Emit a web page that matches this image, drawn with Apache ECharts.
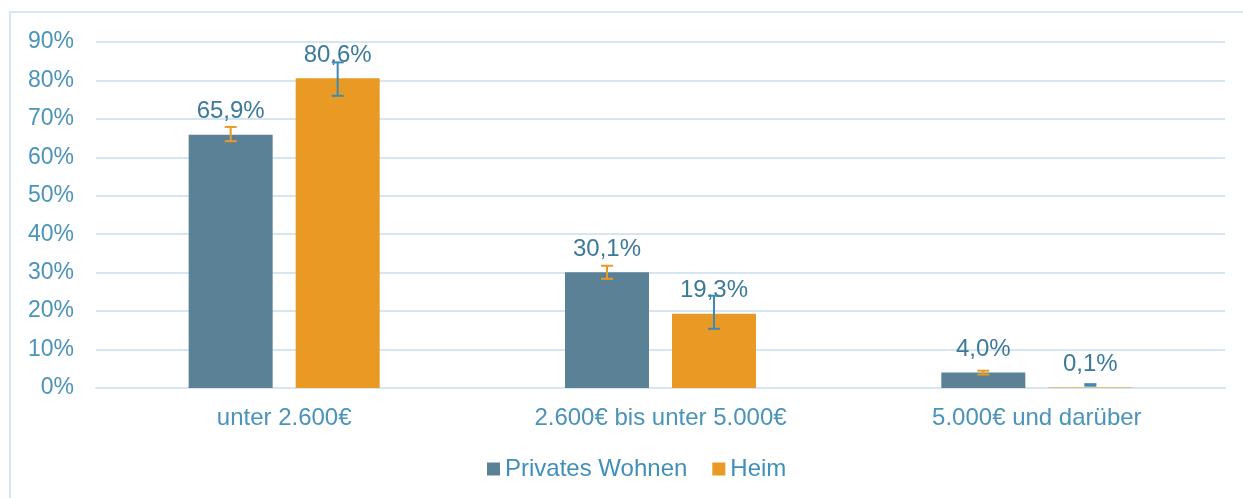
<!DOCTYPE html>
<html>
<head>
<meta charset="utf-8">
<script src="https://cdn.jsdelivr.net/npm/echarts@6/dist/echarts.min.js"></script>
<style>
html,body{margin:0;padding:0;background:#fff;}
#chart{width:1243px;height:498px;}
</style>
</head>
<body>
<div id="chart"></div>
<script>
const categories = ['unter 2.600€', '2.600€ bis unter 5.000€', '5.000€ und darüber'];
const seriesNames = ['Privates Wohnen', 'Heim'];
const privatValues = [65.9, 30.1, 4.0];
const heimValues = [80.6, 19.3, 0.1];
// error bar ranges [low, high]
const privatErrLow = [64.2, 28.4, 3.5];
const privatErrHigh = [67.9, 31.8, 4.5];
const heimErrLow = [76.0, 15.4, 0.6];
const heimErrHigh = [84.7, 24.0, 1.0];
const yTicks = [0, 10, 20, 30, 40, 50, 60, 70, 80, 90];

const BAR_W = 84, BAR_GAP = 23;
const FONT = '"Liberation Sans", Arial, sans-serif';

function errSeries(name, low, high, color, side) {
  return {
    type: 'custom',
    name: name + ' err',
    z: 5,
    silent: true,
    renderItem: function (params, api) {
      const idx = api.value(0);
      const lo = api.coord([idx, api.value(1)]);
      const hi = api.coord([idx, api.value(2)]);
      const x = lo[0] + side * (BAR_W + BAR_GAP) / 2;
      const cap = 6;
      const st = { stroke: color, lineWidth: 2 };
      return {
        type: 'group',
        children: [
          { type: 'line', shape: { x1: x, y1: lo[1], x2: x, y2: hi[1] }, style: st },
          { type: 'line', shape: { x1: x - cap, y1: lo[1], x2: x + cap, y2: lo[1] }, style: st },
          { type: 'line', shape: { x1: x - cap, y1: hi[1], x2: x + cap, y2: hi[1] }, style: st }
        ]
      };
    },
    encode: { x: 0, y: [1, 2] },
    data: low.map((v, i) => [i, v, high[i]])
  };
}

const chart = echarts.init(document.getElementById('chart'));
chart.setOption({
  animation: false,
  textStyle: { fontFamily: FONT },
  graphic: [{
    type: 'rect', silent: true, z: -10,
    shape: { x: 10, y: 12, width: 1400, height: 700 },
    style: { fill: 'none', stroke: '#d6e7f1', lineWidth: 2 }
  }],
  legend: {
    data: seriesNames,
    left: 482, top: 452,
    itemWidth: 13, itemHeight: 13, itemGap: 25,
    icon: 'rect',
    textStyle: { color: '#3f8fba', fontSize: 24, fontFamily: FONT }
  },
  grid: { left: 96, right: 18, top: 42, bottom: 110, containLabel: false },
  xAxis: {
    type: 'category',
    data: categories,
    axisLine: { lineStyle: { color: '#d6e6f0', width: 2 } },
    axisTick: { show: false },
    axisLabel: { color: '#4a93bb', fontSize: 24, margin: 18, fontFamily: FONT }
  },
  yAxis: {
    type: 'value',
    min: 0, max: 90, interval: 10,
    axisLine: { show: false },
    axisTick: { show: false },
    splitLine: { lineStyle: { color: '#d6e6f0', width: 2 } },
    axisLabel: {
      color: '#4a93bb', fontSize: 23, margin: 22, fontFamily: FONT,
      formatter: function (v) { return yTicks.indexOf(v) >= 0 ? v + '%' : ''; }
    }
  },
  series: [
    {
      name: seriesNames[0], type: 'bar', data: privatValues,
      barWidth: BAR_W, barGap: (BAR_GAP / BAR_W * 100).toFixed(1) + '%',
      itemStyle: { color: '#5a8196' },
      label: {
        show: true, position: 'top', distance: 11, color: '#3b7a9a', fontSize: 24, fontFamily: FONT,
        formatter: p => p.value.toFixed(1).replace('.', ',') + '%'
      }
    },
    {
      name: seriesNames[1], type: 'bar', data: heimValues,
      barWidth: BAR_W,
      itemStyle: { color: '#e99a25' },
      label: {
        show: true, position: 'top', distance: 11, color: '#3b7a9a', fontSize: 24, fontFamily: FONT,
        formatter: p => p.value.toFixed(1).replace('.', ',') + '%'
      }
    },
    errSeries(seriesNames[0], privatErrLow, privatErrHigh, '#e99a25', -1),
    errSeries(seriesNames[1], heimErrLow, heimErrHigh, '#3e8ab5', 1)
  ]
});
</script>
</body>
</html>
